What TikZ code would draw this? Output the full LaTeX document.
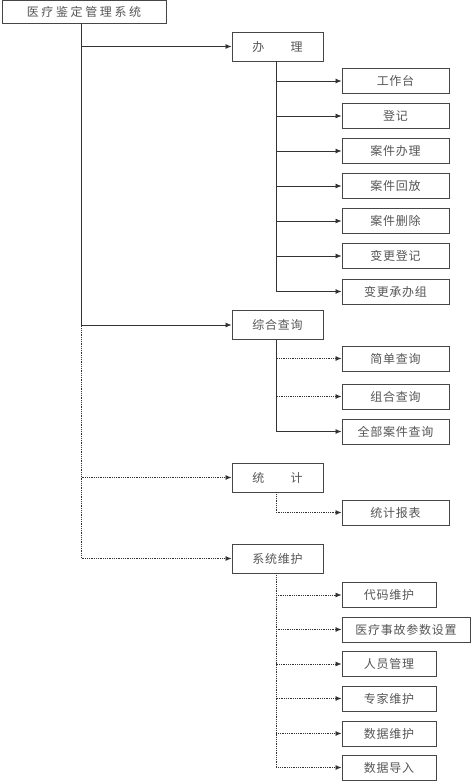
\documentclass[tikz,border=0pt]{standalone}
\usepackage{fontspec}
\usetikzlibrary{arrows.meta}
\newfontfamily\cjk[LetterSpace=6]{Noto Sans CJK SC}
\newfontfamily\cjkwide[LetterSpace=22]{Noto Sans CJK SC}
\definecolor{boxline}{RGB}{70,70,70}
\definecolor{boxtext}{RGB}{85,85,85}
\tikzset{
  box/.style={draw=boxline, line width=0.9pt, inner sep=0pt, text=boxtext, font=\cjk\fontsize{12pt}{14pt}\selectfont},
  topbox/.style={box, minimum width=91pt, minimum height=29pt},
  leaf/.style={box, minimum width=107pt, minimum height=25pt},
  leafs/.style={box, minimum width=94pt, minimum height=25pt},
  link/.style={draw=black!80, line width=0.8pt, -{Latex[length=6pt,width=5pt]}},
  dlink/.style={link, densely dotted}
}

\begin{document}
\begin{tikzpicture}[x=1pt,y=1pt,yscale=-1,xscale=1]
                \useasboundingbox (0,0) rectangle (471,782);
                \node [box, minimum width=164pt, minimum height=23pt, font=\cjkwide\fontsize{12pt}{14pt}\selectfont] (root) at (84,12) {医疗鉴定管理系统};
                \node [topbox] (banli) at (277.5,46.5) {办　　理};
                \node [topbox] (chaxun) at (277.5,325) {综合查询};
                \node [topbox] (tongji) at (277.5,477.5) {统　　计};
                \node [topbox] (weihu) at (277.5,558.5) {系统维护};
                \node [leaf] (gongzuotai) at (395.5,81) {工作台};
                \node [leaf] (dengji) at (395.5,116) {登记};
                \node [leaf] (anjianbanli) at (395.5,151) {案件办理};
                \node [leaf] (huifang) at (395.5,186) {案件回放};
                \node [leaf] (shanchu) at (395.5,221) {案件删除};
                \node [leaf] (biangeng) at (395.5,256) {变更登记};
                \node [leaf] (chengban) at (395.5,291.5) {变更承办组};
                \node [leaf] (jiandan) at (395.5,358.5) {简单查询};
                \node [leaf] (zuhe) at (395.5,396.5) {组合查询};
                \node [leaf] (quanbu) at (395.5,431.5) {全部案件查询};
                \node [leaf] (baobiao) at (395.5,512.5) {统计报表};
                \node [leafs] (daima) at (389,595) {代码维护};
                \node [box, minimum width=128pt, minimum height=25pt] (canshu) at (406,629.5) {医疗事故参数设置};
                \node [leafs] (renyuan) at (389,664) {人员管理};
                \node [leafs] (zhuanjia) at (389,698.5) {专家维护};
                \node [leafs] (shuju) at (389,733.5) {数据维护};
                \node [leafs] (daoru) at (389,767.5) {数据导入};
                \draw [link] ([xshift=-2.5pt]root.south) |- (banli);
                \draw [link] ([xshift=-2.5pt]root.south) |- (chaxun);
                \draw [dlink] ([xshift=-2.5pt]root.south) |- (tongji);
                \draw [dlink] ([xshift=-2.5pt]root.south) |- (weihu);
                \draw [link] ([xshift=-1.5pt]banli.south) |- (gongzuotai);
                \draw [link] ([xshift=-1.5pt]banli.south) |- (dengji);
                \draw [link] ([xshift=-1.5pt]banli.south) |- (anjianbanli);
                \draw [link] ([xshift=-1.5pt]banli.south) |- (huifang);
                \draw [link] ([xshift=-1.5pt]banli.south) |- (shanchu);
                \draw [link] ([xshift=-1.5pt]banli.south) |- (biangeng);
                \draw [link] ([xshift=-1.5pt]banli.south) |- (chengban);
                \draw [dlink] ([xshift=-1.5pt]chaxun.south) |- (jiandan);
                \draw [dlink] ([xshift=-1.5pt]chaxun.south) |- (zuhe);
                \draw [link] ([xshift=-1.5pt]chaxun.south) |- (quanbu);
                \draw [dlink] ([xshift=-1.5pt]tongji.south) |- (baobiao);
                \draw [dlink] ([xshift=-1.5pt]weihu.south) |- (daima);
                \draw [dlink] ([xshift=-1.5pt]weihu.south) |- (canshu);
                \draw [dlink] ([xshift=-1.5pt]weihu.south) |- (renyuan);
                \draw [dlink] ([xshift=-1.5pt]weihu.south) |- (zhuanjia);
                \draw [dlink] ([xshift=-1.5pt]weihu.south) |- (shuju);
                \draw [dlink] ([xshift=-1.5pt]weihu.south) |- (daoru);
            \end{tikzpicture}
\end{document}
